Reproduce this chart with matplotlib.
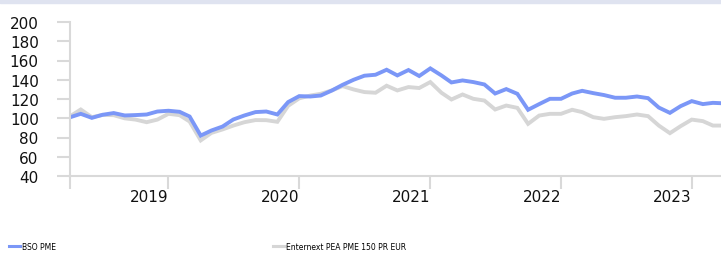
import numpy as np
import pandas as pd
import matplotlib
matplotlib.use("Agg")
import matplotlib.pyplot as plt

# monthly values, rebased to 100
months = pd.date_range("2018-04-01", periods=61, freq="MS")
bso_pme = [101, 104.6, 100.4, 103.6, 105.4, 102.9, 103.3, 103.9, 107, 107.8,
           106.7, 101.8, 82, 87.3, 91.4, 98.7, 102.9, 106.4, 107, 103.9,
           116.8, 123, 122.6, 123.6, 128.8, 134.7, 140, 144.2, 145.2, 150.4,
           144.5, 150.1, 143.9, 151.8, 144.5, 137.2, 139.3, 137.6, 135.1, 125.7,
           130.3, 125.4, 108.8, 114.7, 120.2, 120.2, 125.7, 128.5, 126.1, 124.1,
           121.3, 121.3, 122.6, 120.9, 111.1, 105.6, 112.6, 117.8, 114.7, 116,
           115.5]
pea_pme = [102, 109.1, 101.1, 103.5, 103.2, 99.9, 98.6, 95.9, 98.6, 104.6,
           103.2, 96.6, 77, 84.8, 88.4, 92.4, 95.9, 98.1, 98, 96.3,
           112.9, 120.7, 123.6, 125.4, 128.9, 133.4, 129.9, 127.2, 126.5, 133.8,
           128.9, 132.4, 131.4, 137.6, 126.5, 119.5, 124.7, 120.2, 118.4, 109.1,
           113.2, 110.8, 94.2, 102.8, 104.6, 104.6, 108.8, 106.4, 101.1, 99.4,
           101.1, 102.2, 103.9, 102.2, 92.4, 84.5, 91.8, 98.6, 97, 92.4,
           92.4]
series_names = ["BSO PME", "Enternext PEA PME 150 PR EUR"]
years = ["2019", "2020", "2021", "2022", "2023"]
y_ticks = [40, 60, 80, 100, 120, 140, 160, 180, 200]

blue = "#7b97f7"
grey = "#d6d6d6"
axis_grey = "#d9d9d9"

fig = plt.figure(figsize=(7.21, 2.55), dpi=100)
fig.patches.append(plt.Rectangle((0, 0.986), 1, 0.014, transform=fig.transFigure,
                                 color="#dfe3f0", zorder=0))
ax = fig.add_axes([70 / 721, 78 / 255, 651 / 721, 154 / 255])

l2, = ax.plot(months, pea_pme, color=grey, lw=2.8, solid_joinstyle="miter")
l1, = ax.plot(months, bso_pme, color=blue, lw=2.8, solid_joinstyle="miter")

end = months[59] + 0.73 * (months[60] - months[59])
ax.set_xlim(months[0], end)
ax.set_ylim(40, 200)

for s in ["top", "right"]:
    ax.spines[s].set_visible(False)
for s in ["left", "bottom"]:
    ax.spines[s].set_color(axis_grey)
    ax.spines[s].set_linewidth(1.5)

ax.set_yticks(y_ticks)
ax.tick_params(axis="y", length=9.5, width=1.5, color=axis_grey, pad=13,
               labelsize=11, labelcolor="#111111")

xt = [months[0]] + [pd.Timestamp(f"{y}-01-01") for y in years]
ax.set_xticks(xt)
ax.set_xticklabels([""] + years)
ax.tick_params(axis="x", length=9.5, width=1.5, color=axis_grey, pad=0,
               labelsize=11, labelcolor="#111111")
for lab in ax.get_xticklabels():
    lab.set_ha("right")

fig.legend([l1, l2], series_names, loc="lower left", bbox_to_anchor=(0.003, -0.015),
           ncol=2, frameon=False, fontsize=5.5, handlelength=1.5,
           handletextpad=0.15, columnspacing=28.5)
for h in fig.legends[0].legend_handles:
    h.set_linewidth(2.2)

fig.savefig("out.png", dpi=100)
